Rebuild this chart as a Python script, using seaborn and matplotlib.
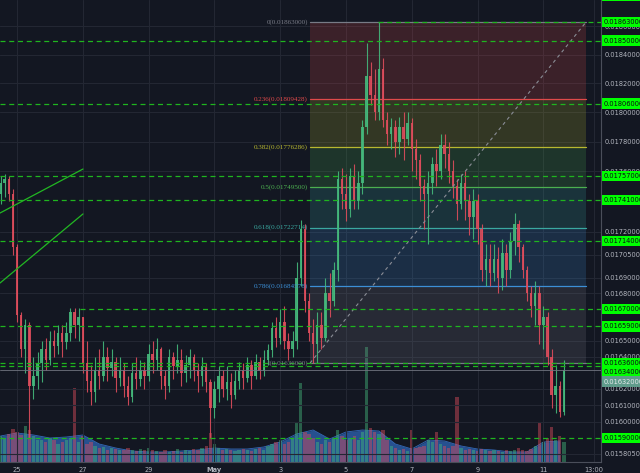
import numpy as np
import pandas as pd
import matplotlib
matplotlib.use('Agg')
import matplotlib.pyplot as plt
import matplotlib.transforms as mtrans
from matplotlib.ticker import FixedLocator, NullLocator, FixedFormatter, NullFormatter
import seaborn as sns

# 3h candles, prices in 1e-5 units (1745 -> 0.01745)
OPEN0 = 1745
CLOSE = [1752, 1755, 1745, 1710, 1666, 1645, 1660, 1622, 1628, 1636,
         1645, 1638, 1650, 1647, 1655, 1649, 1655, 1668, 1660, 1665,
         1636, 1625, 1618, 1632, 1628, 1640, 1633, 1637, 1627, 1632,
         1622, 1615, 1630, 1626, 1632, 1628, 1642, 1638, 1645, 1628,
         1622, 1640, 1634, 1638, 1630, 1635, 1640, 1632, 1628, 1634,
         1624, 1608, 1620, 1628, 1620, 1624, 1616, 1625, 1632, 1627,
         1635, 1628, 1637, 1631, 1638, 1644, 1658, 1652, 1662, 1650,
         1645, 1650, 1690, 1722, 1675, 1655, 1648, 1660, 1652, 1680,
         1675, 1695, 1755, 1745, 1735, 1757, 1740, 1752, 1790, 1825,
         1812, 1800, 1830, 1795, 1785, 1790, 1780, 1790, 1782, 1793,
         1775, 1768, 1750, 1745, 1752, 1765, 1760, 1778, 1772, 1760,
         1750, 1738, 1752, 1740, 1730, 1740, 1722, 1695, 1702, 1693,
         1702, 1690, 1706, 1695, 1714, 1725, 1710, 1695, 1680, 1672,
         1680, 1660, 1665, 1640, 1616, 1622, 1606, 1632]
HIGH = [1757, 1758, 1757, 1748, 1712, 1668, 1664, 1662, 1640, 1643,
        1650, 1652, 1656, 1657, 1660, 1660, 1662, 1671, 1671, 1671,
        1665, 1650, 1635, 1640, 1645, 1650, 1646, 1645, 1640, 1640,
        1636, 1628, 1636, 1640, 1638, 1637, 1648, 1650, 1652, 1646,
        1632, 1645, 1643, 1648, 1645, 1641, 1645, 1642, 1636, 1640,
        1636, 1626, 1625, 1634, 1632, 1634, 1630, 1632, 1637, 1636,
        1640, 1638, 1642, 1640, 1644, 1648, 1662, 1665, 1670, 1672,
        1655, 1656, 1700, 1728, 1725, 1680, 1664, 1668, 1668, 1690,
        1693, 1700, 1760, 1762, 1758, 1762, 1765, 1760, 1795, 1848,
        1835, 1830, 1863, 1838, 1800, 1796, 1795, 1797, 1800, 1800,
        1796, 1782, 1772, 1755, 1760, 1770, 1775, 1785, 1785, 1780,
        1768, 1755, 1758, 1760, 1745, 1748, 1745, 1725, 1712, 1712,
        1712, 1710, 1715, 1712, 1720, 1732, 1728, 1712, 1698, 1685,
        1688, 1685, 1672, 1668, 1645, 1635, 1625, 1638]
LOW = [1738, 1743, 1740, 1705, 1662, 1640, 1630, 1590, 1614, 1620,
       1624, 1632, 1635, 1640, 1642, 1640, 1645, 1650, 1652, 1650,
       1630, 1618, 1610, 1612, 1620, 1625, 1625, 1628, 1618, 1622,
       1615, 1610, 1612, 1620, 1622, 1620, 1625, 1630, 1632, 1620,
       1614, 1618, 1626, 1630, 1622, 1624, 1627, 1625, 1618, 1622,
       1618, 1590, 1602, 1612, 1615, 1613, 1608, 1614, 1620, 1620,
       1624, 1620, 1626, 1626, 1628, 1635, 1640, 1646, 1648, 1645,
       1638, 1640, 1645, 1685, 1668, 1650, 1636, 1636, 1645, 1650,
       1665, 1672, 1688, 1735, 1727, 1730, 1735, 1735, 1745, 1785,
       1805, 1795, 1795, 1790, 1778, 1775, 1770, 1772, 1768, 1778,
       1760, 1755, 1740, 1722, 1712, 1745, 1750, 1755, 1762, 1752,
       1742, 1728, 1735, 1728, 1718, 1715, 1712, 1688, 1685, 1685,
       1688, 1680, 1682, 1685, 1690, 1705, 1700, 1690, 1675, 1665,
       1660, 1648, 1645, 1635, 1608, 1605, 1603, 1604]
VOLUME = [26, 24, 28, 33, 30, 27, 36, 32, 26, 22,
          22, 20, 24, 22, 18, 20, 22, 24, 74, 20,
          26, 18, 20, 16, 14, 15, 12, 14, 13, 12,
          12, 14, 12, 11, 13, 12, 14, 12, 11, 10,
          12, 10, 11, 13, 10, 12, 11, 13, 12, 14,
          16, 29, 18, 14, 12, 13, 12, 11, 12, 13,
          12, 11, 13, 14, 12, 16, 18, 20, 22, 18,
          20, 24, 40, 79, 30, 28, 24, 20, 18, 22,
          20, 24, 32, 26, 22, 24, 26, 22, 30, 115,
          34, 30, 28, 32, 22, 16, 14, 12, 13, 11,
          32, 14, 15, 16, 22, 20, 30, 18, 16, 14,
          16, 65, 14, 12, 13, 12, 11, 13, 12, 11,
          12, 11, 10, 12, 11, 12, 14, 12, 11, 13,
          16, 40, 20, 24, 35, 22, 26, 20]
# volume average, one value every 4 candles
VOL_MA = [26, 29, 27, 24, 25, 27, 18, 14, 11, 10,
          10, 11, 12, 14, 13, 13, 15, 20, 28, 32,
          23, 30, 32, 31, 18, 13, 22, 21, 16, 13,
          12, 10, 10, 20, 21]

# time axis: days after Apr 24 00:00
T_START = 0.5
T_STEP = 0.125
DATE_TICKS = [1, 3, 5, 7, 9, 11, 13, 15, 17, 18.54]
DATE_LABELS = ['25', '27', '29', 'May', '3', '5', '7', '9', '11', '13:00']

PRICE_TICKS = [0.0186, 0.0184, 0.0182, 0.0180, 0.0178, 0.0176, 0.0172, 0.01705,
               0.0169, 0.0168, 0.0165, 0.0164, 0.0162, 0.0161, 0.0160, 0.015805]

# horizontal levels (green dashed + tag), start day of line
LEVELS = [0.01863, 0.0185, 0.01806, 0.01757, 0.01741, 0.01714,
          0.0167, 0.01659, 0.01636, 0.01634, 0.0159]
LEVEL_START = [11.97, None, None, None, None, None, 2.915, None, None, None, None]
TOP_TAG = 0.0188
LAST_PRICE = 0.01632

# fibonacci retracement
FIB_HIGH = 0.01863
FIB_LOW = 0.01636
FIB_T = (9.906, 18.295)
FIB_LEVELS = [0, 0.236, 0.382, 0.5, 0.618, 0.786, 1]
FIB_COLORS = ['#787b86', '#e04a4a', '#b8b830', '#4caf50', '#3aa8a0', '#3c8fd6', '#787b86']

# hand drawn trend lines
TREND_LINES = [[(0.483, 0.017323), (3.006, 0.017616)],
               [(0.483, 0.016867), (3.006, 0.017317)]]

BG = '#131722'
GRID = '#232733'
TEXT = '#b2b5be'
UP = '#45b97c'
DOWN = '#de4d5c'
LEVEL_GREEN = '#1fb51f'

sns.set_theme(style='dark', rc={'axes.facecolor': BG, 'figure.facecolor': BG})
plt.rcParams['font.family'] = ['DejaVu Sans']

df = pd.DataFrame({'close': CLOSE, 'high': HIGH, 'low': LOW})
df['open'] = [OPEN0] + CLOSE[:-1]
df[['open', 'high', 'low', 'close']] = df[['open', 'high', 'low', 'close']] / 1e5
df['volume'] = VOLUME
df['t'] = T_START + T_STEP * np.arange(len(df))
df['up'] = df['close'] >= df['open']
colors = np.where(df['up'], UP, DOWN)

x_lim = (0.4833, 18.751)
y_lim = (0.015755, 0.018788)
rect = [0, 11 / 473, 601 / 640, 462 / 473]

fig = plt.figure(figsize=(6.4, 4.73), dpi=100)

# volume pane underneath
ax_v = fig.add_axes(rect, zorder=0)
ax_v.set_facecolor(BG)
ma_t = df['t'].iloc[::4].to_numpy()[:len(VOL_MA)]
ax_v.fill_between(ma_t, 0, VOL_MA, color='#2b5fab', alpha=0.8, lw=0, zorder=2)
sns.lineplot(x=ma_t, y=VOL_MA, ax=ax_v, color='#3469b8', lw=0.6, zorder=2)
ax_v.bar(df['t'], df['volume'], width=0.1, color=colors, alpha=0.45, lw=0, zorder=3)
ax_v.set_xlim(*x_lim)
ax_v.set_ylim(0, 462)
ax_v.set_xticks([])
ax_v.set_yticks([])
ax_v.set_xlabel('')
ax_v.set_ylabel('')
for s in ax_v.spines.values():
    s.set_visible(False)

# price pane
ax = fig.add_axes(rect, zorder=1)
ax.patch.set_visible(False)
ax.set_yscale('log')
ax.set_xlim(*x_lim)
ax.set_ylim(*y_lim)

for t in DATE_TICKS:
    ax.axvline(t, color=GRID, lw=0.8, zorder=0)
for p in PRICE_TICKS:
    ax.axhline(p, color=GRID, lw=0.8, zorder=0)

# fib zones and lines
fib_prices = [FIB_HIGH - lv * (FIB_HIGH - FIB_LOW) for lv in FIB_LEVELS]
t0, t1 = FIB_T
for k in range(len(FIB_LEVELS) - 1):
    ax.fill_between([t0, t1], fib_prices[k], fib_prices[k + 1],
                    color=FIB_COLORS[k + 1], alpha=0.2, lw=0, zorder=1)
lab_tr = mtrans.offset_copy(ax.transData, fig=fig, x=-2, y=0, units='dots')
for lv, p, c in zip(FIB_LEVELS, fib_prices, FIB_COLORS):
    ax.plot([t0, t1], [p, p], color=c, lw=0.9, zorder=2)
    ax.text(t0, p, f'{lv:g}({p:.8f})', transform=lab_tr, ha='right', va='center',
            fontsize=5.1, color=c, family=['Liberation Serif', 'DejaVu Serif'], zorder=6)
ax.plot([t0, t1], [FIB_LOW, FIB_HIGH], color='#8a8d96', lw=0.8, ls=(0, (3, 3)), zorder=5)

for (xa, ya), (xb, yb) in TREND_LINES:
    ax.plot([xa, xb], [ya, yb], color='#22b822', lw=0.9, zorder=5)

# candles
bottoms = np.minimum(df['open'], df['close'])
heights = np.maximum(np.abs(df['close'] - df['open']), 0.0000015)
ax.vlines(df['t'], df['low'], df['high'], colors=colors, lw=0.8, alpha=0.9, zorder=3)
ax.bar(df['t'], heights, bottom=bottoms, width=0.075, color=colors, alpha=0.9, lw=0, zorder=4)

# levels
for p, start in zip(LEVELS, LEVEL_START):
    xs = start if start is not None else x_lim[0]
    ax.plot([xs, x_lim[1]], [p, p], color=LEVEL_GREEN, lw=0.9, ls=(0, (4, 3)), zorder=5)
ax.axhline(LAST_PRICE, color='#70747f', lw=0.6, zorder=5)

# right axis ticks and tags
ax.yaxis.tick_right()
ax.yaxis.set_major_locator(FixedLocator(PRICE_TICKS))
ax.yaxis.set_major_formatter(FixedFormatter([f'{p:.8f}' for p in PRICE_TICKS]))
ax.yaxis.set_minor_locator(NullLocator())
ax.yaxis.set_minor_formatter(NullFormatter())
ax.tick_params(axis='y', length=0, pad=2.5, labelsize=4.8, labelcolor=TEXT)

ax.set_xticks(DATE_TICKS)
ax.set_xticklabels(DATE_LABELS)
ax.tick_params(axis='x', length=2, width=0.6, color='#4a4e5a', pad=1.5, labelsize=4.8, labelcolor=TEXT)
ax.get_xticklabels()[3].set_fontweight('bold')

for name, s in ax.spines.items():
    if name in ('right', 'bottom'):
        s.set_color('#4a4e5a')
        s.set_linewidth(0.8)
    else:
        s.set_visible(False)

tag_nudge = {TOP_TAG: 3, 0.01634: -6, LAST_PRICE: -12}
tag_base = mtrans.blended_transform_factory(ax.transAxes, ax.transData)
for p in [TOP_TAG] + LEVELS:
    tr = mtrans.offset_copy(tag_base, fig=fig, x=3, y=tag_nudge.get(p, 0), units='dots')
    ax.text(1.0, p, f'{p:.8f}', transform=tr, ha='left', va='center', fontsize=4.8,
            color='#0b0e14', clip_on=False, zorder=10,
            bbox=dict(boxstyle='square,pad=0.35', fc='#00ff00', ec='none'))
tr = mtrans.offset_copy(tag_base, fig=fig, x=3, y=tag_nudge[LAST_PRICE], units='dots')
ax.text(1.0, LAST_PRICE, f'{LAST_PRICE:.8f}', transform=tr, ha='left', va='center',
        fontsize=4.8, color='#e6e8ec', clip_on=False, zorder=10,
        bbox=dict(boxstyle='square,pad=0.35', fc='#5f9c8b', ec='none'))

fig.savefig('out.png', dpi=100, facecolor=BG)
